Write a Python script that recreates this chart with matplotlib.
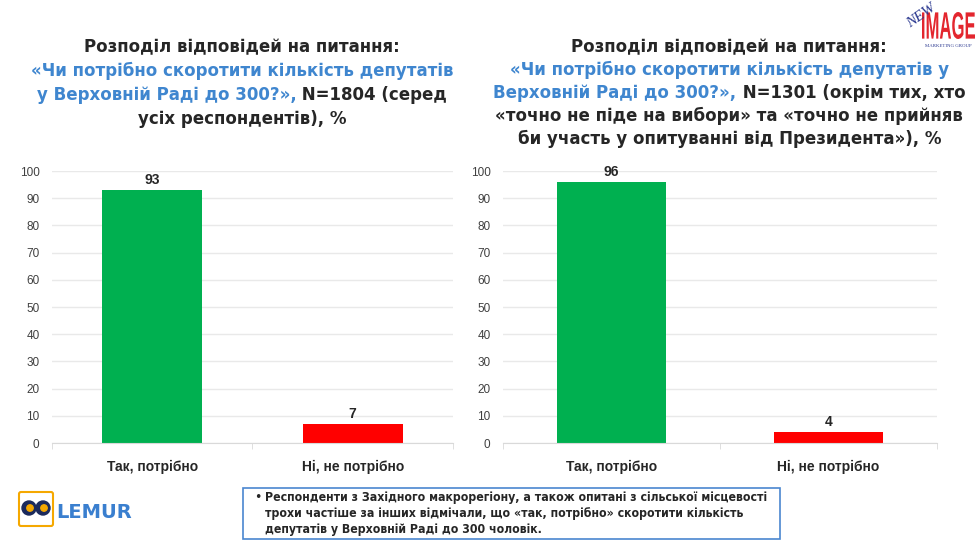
import matplotlib.pyplot as plt
from matplotlib.patches import Rectangle, Circle, FancyBboxPatch, PathPatch
from matplotlib.textpath import TextPath
from matplotlib.font_manager import FontProperties
from matplotlib.transforms import Affine2D

# data
categories = ['Так, потрібно', 'Ні, не потрібно']
values_all = [93, 7]
values_voters = [96, 4]
bar_colors = ['#00B050', '#FF0000']
yticks = list(range(0, 101, 10))

blue = '#3F86CF'
dark = '#262626'
plt.rcParams['font.family'] = ['DejaVu Sans']

fig = plt.figure(figsize=(9.79, 5.47), dpi=100)


def draw_panel(rect, vals):
    ax = fig.add_axes(rect)
    x = range(len(categories))
    ax.bar(x, vals, width=0.5, color=bar_colors, zorder=2)
    ax.set_xlim(-0.5, 1.5)
    ax.set_ylim(0, 100)
    ax.set_yticks(yticks)
    ax.set_yticklabels([str(t) for t in yticks], fontsize=8.5, color='#404040',
                       family='Liberation Sans')
    ax.set_xticks(list(x))
    ax.set_xticklabels(categories, fontsize=10, fontweight='bold', color=dark,
                       family='Liberation Sans')
    ax.set_xticks([-0.5, 0.5, 1.5], minor=True)
    ax.tick_params(axis='x', which='major', length=0, pad=12)
    ax.tick_params(axis='x', which='minor', length=4, color='#D9D9D9')
    ax.tick_params(axis='y', length=0, pad=9)
    ax.grid(axis='y', color='#E9E9E9', linewidth=1, zorder=0)
    for s in ['top', 'right', 'left']:
        ax.spines[s].set_visible(False)
    ax.spines['bottom'].set_color('#D9D9D9')
    ax.spines['bottom'].set_zorder(3)
    for xi, v in zip(x, vals):
        ax.text(xi, v + 1.2, str(v), ha='center', va='bottom', fontsize=10,
                fontweight='bold', color=dark, family='Liberation Sans')
    return ax


draw_panel([0.0531, 0.190, 0.4096, 0.4973], values_all)
draw_panel([0.5138, 0.190, 0.4433, 0.4973], values_voters)


def title_lines(xc, lines, y0, step):
    # each line: list of (text, colour) pieces, drawn centred as one row
    r = fig.canvas.get_renderer()
    for i, parts in enumerate(lines):
        y = y0 - i * step
        objs = []
        for txt, col in parts:
            t = fig.text(0, y, txt, color=col, fontsize=12, fontweight='bold',
                         va='center', ha='left')
            objs.append(t)
        widths = [o.get_window_extent(r).width / fig.bbox.width for o in objs]
        xs = xc - sum(widths) / 2
        for o, w in zip(objs, widths):
            o.set_x(xs)
            xs += w


title_lines(0.247, [
    [('Розподіл відповідей на питання:', dark)],
    [('«Чи потрібно скоротити кількість депутатів', blue)],
    [('у Верховній Раді до 300?»,', blue), (' N=1804 (серед', dark)],
    [('усіх респондентів), %', dark)],
], 1 - 47 / 547, 24 / 547)

title_lines(0.745, [
    [('Розподіл відповідей на питання:', dark)],
    [('«Чи потрібно скоротити кількість депутатів у', blue)],
    [('Верховній Раді до 300?»,', blue), (' N=1301 (окрім тих, хто', dark)],
    [('«точно не піде на вибори» та «точно не прийняв', dark)],
    [('би участь у опитуванні від Президента»), %', dark)],
], 1 - 47 / 547, 23 / 547)

# footer note box
fig.patches.append(Rectangle((243 / 979, 1 - 539 / 547), 537 / 979, 51 / 547,
                             transform=fig.transFigure, fill=False,
                             edgecolor='#4A86D0', linewidth=1.2))
fig.text(254 / 979, 1 - 498 / 547, '•', fontsize=9, color=dark, va='center')
note = ['Респонденти з Західного макрорегіону, а також опитані з сільської місцевості',
        'трохи частіше за інших відмічали, що «так, потрібно» скоротити кількість',
        'депутатів у Верховній Раді до 300 чоловік.']
for i, line in enumerate(note):
    fig.text(265 / 979, 1 - (498 + i * 16) / 547, line, fontsize=8.8,
             fontweight='bold', color=dark, va='center', fontstretch='condensed',
             family=['DejaVu Sans'])

# LEMUR logo (approximate)
la = fig.add_axes([15 / 979, 1 - 528 / 547, 45 / 979, 40 / 547])
la.set_xlim(0, 45)
la.set_ylim(0, 40)
la.set_aspect('equal')
la.axis('off')
la.add_patch(FancyBboxPatch((6, 4), 30, 30, boxstyle='round,pad=2',
                            fill=False, edgecolor='#F5A800', linewidth=1.5))
for cx in (14, 28):
    la.add_patch(Circle((cx, 20), 7, color='#1B2A5C'))
    la.add_patch(Circle((cx + 1, 20), 3.2, color='#F5A800'))
fig.text(56 / 979, 1 - 512 / 547, 'LEMUR', fontsize=14, fontweight='bold',
         color='#3A7FCF', va='center')

# NEW IMAGE logo (approximate), drawn in pixel coordinates
lg = fig.add_axes([0, 0, 1, 1], zorder=5)
lg.set_xlim(0, 979)
lg.set_ylim(0, 547)
lg.axis('off')
tp = TextPath((0, 0), 'IMAGE', size=10,
              prop=FontProperties(family='Liberation Sans', weight='bold'))
bb = tp.get_extents()
sx = 53 / bb.width
sy = 27 / bb.height
tr = Affine2D().translate(-bb.x0, -bb.y0).scale(sx, sy).translate(922, 547 - 39)
lg.add_patch(PathPatch(tr.transform_path(tp), color='#E3262E', lw=0))
lg.text(921, 547 - 16, 'NEW', fontsize=11, style='italic', color='#2B3990',
        ha='center', va='center', rotation=35, family='Liberation Serif')
lg.text(948, 547 - 46, 'MARKETING GROUP', fontsize=3.5, color='#2B3990',
        ha='center', va='center', family='Liberation Serif')

fig.savefig('out.png', dpi=100)
